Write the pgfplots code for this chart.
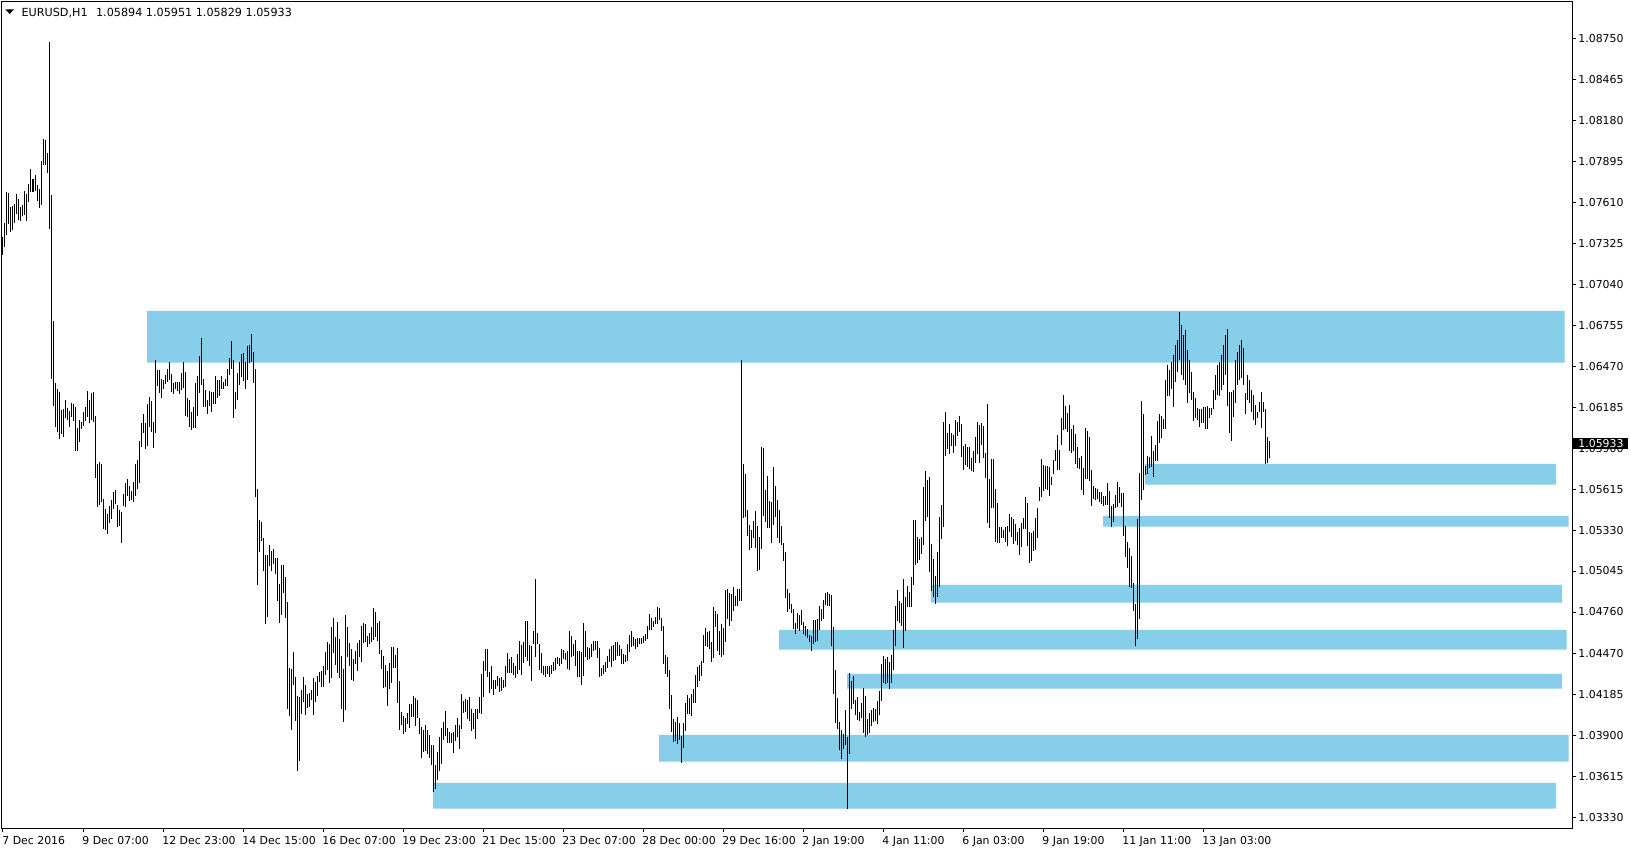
\documentclass[border=0pt]{standalone}
\usepackage{pgfplots}
\pgfplotsset{compat=1.18}
\usepackage{pgfplotstable}
\usepackage{fontspec}
\setmainfont{DejaVu Sans}
\definecolor{zone}{RGB}{135,206,235}
\newcommand{\tf}{\fontsize{5.45pt}{6.5pt}\selectfont}
\pgfplotstableread{
i hi lo
0 1.07371 1.07243
1 1.07468 1.07301
2 1.07681 1.07382
3 1.07677 1.07459
4 1.07579 1.07405
5 1.07586 1.07417
6 1.07600 1.07468
7 1.07667 1.07528
8 1.07633 1.07486
9 1.07579 1.07482
10 1.07591 1.07514
11 1.07688 1.07521
12 1.07665 1.07482
13 1.07739 1.07614
14 1.07841 1.07683
15 1.07774 1.07683
16 1.07799 1.07688
17 1.07730 1.07621
18 1.07704 1.07572
19 1.07897 1.07593
20 1.08052 1.07871
21 1.08043 1.07871
22 1.07952 1.07816
23 1.08724 1.07426
24 1.07663 1.06383
25 1.06786 1.06195
26 1.06355 1.06049
27 1.06311 1.06015
28 1.06293 1.05966
29 1.06168 1.06001
30 1.06174 1.05980
31 1.06237 1.06107
32 1.06181 1.06096
33 1.06158 1.06049
34 1.06216 1.06114
35 1.06209 1.06089
36 1.06186 1.05882
37 1.06042 1.05882
38 1.06096 1.05943
39 1.06084 1.06035
40 1.06154 1.06056
41 1.06186 1.06091
42 1.06300 1.06119
43 1.06237 1.06072
44 1.06286 1.06093
45 1.06293 1.06084
46 1.06124 1.05690
47 1.05790 1.05493
48 1.05804 1.05502
49 1.05790 1.05523
50 1.05549 1.05338
51 1.05477 1.05328
52 1.05442 1.05305
53 1.05500 1.05382
54 1.05539 1.05409
55 1.05597 1.05474
56 1.05607 1.05509
57 1.05505 1.05354
58 1.05470 1.05361
59 1.05458 1.05243
60 1.05583 1.05495
61 1.05658 1.05493
62 1.05685 1.05570
63 1.05634 1.05530
64 1.05602 1.05539
65 1.05664 1.05528
66 1.05790 1.05567
67 1.05818 1.05613
68 1.05950 1.05660
69 1.06072 1.05910
70 1.06137 1.06008
71 1.06072 1.05896
72 1.06207 1.05917
73 1.06253 1.06049
74 1.06228 1.06015
75 1.06079 1.05903
76 1.06513 1.06008
77 1.06443 1.06334
78 1.06443 1.06286
79 1.06381 1.06251
80 1.06374 1.06311
81 1.06409 1.06344
82 1.06450 1.06360
83 1.06499 1.06374
84 1.06416 1.06293
85 1.06355 1.06279
86 1.06360 1.06309
87 1.06360 1.06300
88 1.06360 1.06279
89 1.06422 1.06304
90 1.06499 1.06316
91 1.06429 1.06126
92 1.06249 1.06119
93 1.06235 1.06049
94 1.06151 1.06028
95 1.06186 1.06042
96 1.06353 1.06042
97 1.06402 1.06126
98 1.06541 1.06286
99 1.06666 1.06341
100 1.06381 1.06188
101 1.06304 1.06188
102 1.06235 1.06140
103 1.06297 1.06195
104 1.06290 1.06154
105 1.06290 1.06205
106 1.06402 1.06209
107 1.06374 1.06251
108 1.06374 1.06265
109 1.06402 1.06314
110 1.06362 1.06314
111 1.06381 1.06330
112 1.06450 1.06334
113 1.06527 1.06411
114 1.06645 1.06453
115 1.06513 1.06112
116 1.06290 1.06174
117 1.06425 1.06237
118 1.06499 1.06339
119 1.06555 1.06392
120 1.06562 1.06369
121 1.06499 1.06314
122 1.06610 1.06374
123 1.06617 1.06490
124 1.06694 1.06499
125 1.06569 1.06355
126 1.06450 1.05558
127 1.05616 1.04950
128 1.05400 1.05180
129 1.05386 1.05257
130 1.05275 1.05048
131 1.05157 1.04679
132 1.05157 1.04728
133 1.05226 1.05083
134 1.05185 1.05048
135 1.05199 1.05097
136 1.05136 1.05027
137 1.05136 1.04837
138 1.04955 1.04686
139 1.05087 1.04742
140 1.05087 1.04895
141 1.05004 1.04721
142 1.04830 1.04088
143 1.04371 1.04040
144 1.04364 1.03942
145 1.04482 1.04255
146 1.04308 1.04005
147 1.04176 1.03657
148 1.04169 1.03727
149 1.04218 1.04049
150 1.04308 1.04137
151 1.04253 1.04047
152 1.04190 1.04095
153 1.04197 1.04098
154 1.04218 1.04149
155 1.04302 1.04047
156 1.04274 1.04137
157 1.04315 1.04179
158 1.04343 1.04274
159 1.04350 1.04241
160 1.04385 1.04241
161 1.04482 1.04322
162 1.04552 1.04359
163 1.04538 1.04269
164 1.04656 1.04304
165 1.04719 1.04478
166 1.04587 1.04394
167 1.04691 1.04339
168 1.04573 1.04304
169 1.04454 1.04088
170 1.04364 1.03998
171 1.04740 1.04081
172 1.04656 1.04450
173 1.04545 1.04387
174 1.04503 1.04290
175 1.04434 1.04283
176 1.04489 1.04401
177 1.04545 1.04353
178 1.04566 1.04448
179 1.04663 1.04415
180 1.04684 1.04545
181 1.04677 1.04552
182 1.04594 1.04519
183 1.04614 1.04538
184 1.04656 1.04552
185 1.04788 1.04568
186 1.04760 1.04589
187 1.04684 1.04556
188 1.04698 1.04471
189 1.04496 1.04366
190 1.04454 1.04234
191 1.04392 1.04241
192 1.04350 1.04109
193 1.04406 1.04227
194 1.04517 1.04269
195 1.04517 1.04373
196 1.04461 1.04373
197 1.04510 1.04130
198 1.04281 1.03942
199 1.04065 1.03977
200 1.04037 1.03914
201 1.04023 1.03928
202 1.04058 1.03984
203 1.04121 1.03956
204 1.04121 1.04033
205 1.04176 1.04033
206 1.04162 1.03970
207 1.04149 1.04026
208 1.04023 1.03914
209 1.03961 1.03748
210 1.03940 1.03789
211 1.03975 1.03796
212 1.03940 1.03775
213 1.03905 1.03748
214 1.03836 1.03697
215 1.03836 1.03511
216 1.03699 1.03532
217 1.03789 1.03594
218 1.03894 1.03657
219 1.03956 1.03706
220 1.03998 1.03873
221 1.04072 1.03898
222 1.03956 1.03852
223 1.03928 1.03852
224 1.03921 1.03852
225 1.03928 1.03782
226 1.03975 1.03866
227 1.04023 1.03889
228 1.03977 1.03810
229 1.04190 1.03947
230 1.04144 1.04058
231 1.04156 1.04067
232 1.04151 1.04019
233 1.04172 1.04003
234 1.04086 1.03935
235 1.04058 1.03947
236 1.04086 1.03880
237 1.04086 1.04016
238 1.04172 1.04056
239 1.04332 1.04051
240 1.04422 1.04172
241 1.04506 1.04350
242 1.04506 1.04311
243 1.04343 1.04200
244 1.04385 1.04223
245 1.04290 1.04186
246 1.04290 1.04227
247 1.04318 1.04246
248 1.04304 1.04207
249 1.04311 1.04213
250 1.04290 1.04234
251 1.04385 1.04241
252 1.04475 1.04339
253 1.04434 1.04336
254 1.04450 1.04339
255 1.04406 1.04322
256 1.04385 1.04304
257 1.04468 1.04329
258 1.04561 1.04360
259 1.04533 1.04325
260 1.04552 1.04404
261 1.04700 1.04450
262 1.04700 1.04417
263 1.04531 1.04387
264 1.04526 1.04283
265 1.04631 1.04540
266 1.04990 1.04450
267 1.04617 1.04538
268 1.04538 1.04360
269 1.04473 1.04339
270 1.04387 1.04325
271 1.04387 1.04311
272 1.04387 1.04332
273 1.04387 1.04311
274 1.04394 1.04332
275 1.04413 1.04350
276 1.04441 1.04357
277 1.04448 1.04399
278 1.04441 1.04387
279 1.04503 1.04401
280 1.04496 1.04436
281 1.04475 1.04427
282 1.04492 1.04366
283 1.04631 1.04355
284 1.04594 1.04450
285 1.04540 1.04457
286 1.04566 1.04387
287 1.04492 1.04311
288 1.04492 1.04308
289 1.04480 1.04255
290 1.04684 1.04318
291 1.04628 1.04445
292 1.04515 1.04427
293 1.04508 1.04431
294 1.04538 1.04450
295 1.04559 1.04492
296 1.04561 1.04496
297 1.04559 1.04441
298 1.04508 1.04308
299 1.04373 1.04318
300 1.04392 1.04327
301 1.04413 1.04343
302 1.04452 1.04371
303 1.04503 1.04411
304 1.04524 1.04380
305 1.04531 1.04420
306 1.04554 1.04424
307 1.04552 1.04452
308 1.04531 1.04454
309 1.04503 1.04397
310 1.04471 1.04401
311 1.04462 1.04411
312 1.04540 1.04417
313 1.04601 1.04482
314 1.04628 1.04515
315 1.04584 1.04524
316 1.04573 1.04501
317 1.04582 1.04519
318 1.04580 1.04538
319 1.04580 1.04538
320 1.04594 1.04547
321 1.04610 1.04561
322 1.04666 1.04575
323 1.04747 1.04635
324 1.04721 1.04635
325 1.04700 1.04659
326 1.04728 1.04679
327 1.04795 1.04679
328 1.04788 1.04705
329 1.04721 1.04631
330 1.04663 1.04401
331 1.04461 1.04332
332 1.04448 1.04311
333 1.04357 1.04088
334 1.04183 1.03928
335 1.04019 1.03859
336 1.03998 1.03866
337 1.04033 1.03845
338 1.03991 1.03873
339 1.03901 1.03713
340 1.03991 1.03817
341 1.04130 1.03935
342 1.04186 1.04054
343 1.04165 1.04054
344 1.04193 1.04040
345 1.04227 1.04130
346 1.04322 1.04130
347 1.04380 1.04241
348 1.04394 1.04283
349 1.04422 1.04318
350 1.04603 1.04408
351 1.04652 1.04526
352 1.04619 1.04519
353 1.04628 1.04506
354 1.04552 1.04415
355 1.04795 1.04443
356 1.04770 1.04658
357 1.04747 1.04492
358 1.04628 1.04464
359 1.04677 1.04445
360 1.04652 1.04464
361 1.04913 1.04554
362 1.04923 1.04714
363 1.04890 1.04665
364 1.04886 1.04700
365 1.04934 1.04770
366 1.04872 1.04805
367 1.04923 1.04805
368 1.04923 1.04839
369 1.06513 1.04839
370 1.05790 1.05416
371 1.05720 1.05423
372 1.05470 1.05291
373 1.05365 1.05194
374 1.05331 1.05208
375 1.05393 1.05277
376 1.05463 1.05208
377 1.05359 1.05048
378 1.05282 1.05055
379 1.05908 1.05201
380 1.05901 1.05430
381 1.05609 1.05389
382 1.05706 1.05347
383 1.05532 1.05347
384 1.05525 1.05243
385 1.05769 1.05368
386 1.05637 1.05423
387 1.05539 1.05277
388 1.05470 1.05243
389 1.05359 1.05229
390 1.05243 1.05117
391 1.05180 1.04860
392 1.04923 1.04763
393 1.04895 1.04784
394 1.04816 1.04753
395 1.04781 1.04642
396 1.04684 1.04607
397 1.04753 1.04642
398 1.04740 1.04631
399 1.04774 1.04670
400 1.04691 1.04607
401 1.04663 1.04594
402 1.04642 1.04580
403 1.04600 1.04552
404 1.04594 1.04492
405 1.04705 1.04540
406 1.04705 1.04552
407 1.04712 1.04559
408 1.04804 1.04635
409 1.04781 1.04698
410 1.04844 1.04714
411 1.04893 1.04809
412 1.04900 1.04802
413 1.04888 1.04802
414 1.04879 1.04526
415 1.04654 1.04190
416 1.04357 1.03991
417 1.04165 1.03949
418 1.03996 1.03803
419 1.03942 1.03741
420 1.03912 1.03810
421 1.04079 1.03838
422 1.03891 1.03393
423 1.04336 1.03775
424 1.04283 1.04088
425 1.04315 1.04123
426 1.04149 1.04047
427 1.04169 1.04012
428 1.04065 1.04002
429 1.04128 1.04026
430 1.04232 1.03917
431 1.04176 1.03894
432 1.04019 1.03907
433 1.04058 1.03921
434 1.04081 1.03970
435 1.04093 1.03998
436 1.04086 1.04002
437 1.04144 1.03984
438 1.04213 1.04047
439 1.04399 1.04144
440 1.04454 1.04269
441 1.04436 1.04262
442 1.04448 1.04269
443 1.04413 1.04227
444 1.04461 1.04269
445 1.04638 1.04359
446 1.04804 1.04526
447 1.04913 1.04700
448 1.04837 1.04686
449 1.04823 1.04665
450 1.04990 1.04512
451 1.04867 1.04631
452 1.04941 1.04798
453 1.04900 1.04798
454 1.05004 1.04798
455 1.05400 1.04948
456 1.05400 1.05090
457 1.05282 1.05104
458 1.05270 1.05124
459 1.05282 1.05164
460 1.05632 1.05226
461 1.05741 1.05396
462 1.05678 1.05421
463 1.05702 1.05041
464 1.05233 1.04909
465 1.05129 1.04867
466 1.05011 1.04818
467 1.05178 1.04867
468 1.05421 1.04932
469 1.05504 1.05270
470 1.06082 1.05354
471 1.06151 1.05848
472 1.06008 1.05896
473 1.06068 1.05862
474 1.06005 1.05917
475 1.05991 1.05869
476 1.06096 1.05917
477 1.06082 1.05984
478 1.06123 1.06015
479 1.06068 1.05841
480 1.05915 1.05750
481 1.05929 1.05785
482 1.05908 1.05771
483 1.05908 1.05757
484 1.05831 1.05743
485 1.05880 1.05736
486 1.05977 1.05799
487 1.06082 1.05862
488 1.06061 1.05799
489 1.06075 1.05924
490 1.06054 1.05831
491 1.05866 1.05695
492 1.06207 1.05382
493 1.05685 1.05347
494 1.05824 1.05486
495 1.05824 1.05486
496 1.05616 1.05245
497 1.05519 1.05243
498 1.05354 1.05243
499 1.05352 1.05275
500 1.05331 1.05275
501 1.05352 1.05250
502 1.05359 1.05217
503 1.05442 1.05319
504 1.05423 1.05284
505 1.05407 1.05233
506 1.05372 1.05257
507 1.05317 1.05229
508 1.05345 1.05159
509 1.05379 1.05215
510 1.05414 1.05340
511 1.05560 1.05340
512 1.05519 1.05222
513 1.05317 1.05104
514 1.05312 1.05117
515 1.05326 1.05187
516 1.05414 1.05194
517 1.05484 1.05277
518 1.05630 1.05535
519 1.05824 1.05563
520 1.05783 1.05604
521 1.05776 1.05616
522 1.05776 1.05609
523 1.05769 1.05570
524 1.05700 1.05640
525 1.05818 1.05720
526 1.05887 1.05813
527 1.05991 1.05748
528 1.05887 1.05748
529 1.06110 1.05922
530 1.06270 1.06026
531 1.06193 1.06035
532 1.06144 1.06012
533 1.06200 1.05880
534 1.06033 1.05869
535 1.06061 1.05880
536 1.05998 1.05792
537 1.05908 1.05762
538 1.05831 1.05757
539 1.05845 1.05609
540 1.05762 1.05574
541 1.06040 1.05688
542 1.06019 1.05688
543 1.05977 1.05674
544 1.05748 1.05498
545 1.05639 1.05546
546 1.05623 1.05539
547 1.05616 1.05546
548 1.05595 1.05525
549 1.05595 1.05512
550 1.05567 1.05500
551 1.05565 1.05505
552 1.05658 1.05507
553 1.05602 1.05417
554 1.05500 1.05354
555 1.05514 1.05389
556 1.05576 1.05486
557 1.05665 1.05493
558 1.05630 1.05521
559 1.05588 1.05488
560 1.05588 1.05291
561 1.05359 1.05143
562 1.05250 1.05066
563 1.05206 1.04932
564 1.05152 1.04930
565 1.04960 1.04770
566 1.04816 1.04526
567 1.05410 1.04575
568 1.05727 1.04714
569 1.06228 1.05541
570 1.06140 1.05609
571 1.05776 1.05711
572 1.05845 1.05718
573 1.05838 1.05762
574 1.05984 1.05771
575 1.05880 1.05699
576 1.05922 1.05811
577 1.06089 1.05811
578 1.06137 1.05934
579 1.06123 1.05968
580 1.06103 1.06035
581 1.06374 1.06035
582 1.06478 1.06265
583 1.06443 1.06265
584 1.06499 1.06313
585 1.06548 1.06188
586 1.06617 1.06362
587 1.06652 1.06429
588 1.06847 1.06513
589 1.06756 1.06409
590 1.06687 1.06374
591 1.06721 1.06339
592 1.06582 1.06214
593 1.06513 1.06283
594 1.06429 1.06235
595 1.06290 1.06091
596 1.06249 1.06110
597 1.06181 1.06096
598 1.06172 1.06049
599 1.06172 1.06073
600 1.06188 1.06073
601 1.06188 1.06031
602 1.06193 1.06031
603 1.06177 1.06107
604 1.06177 1.06130
605 1.06304 1.06174
606 1.06409 1.06235
607 1.06478 1.06270
608 1.06499 1.06263
609 1.06548 1.06304
610 1.06617 1.06339
611 1.06687 1.06409
612 1.06728 1.06193
613 1.06292 1.06003
614 1.06290 1.05952
615 1.06304 1.06117
616 1.06513 1.06214
617 1.06569 1.06339
618 1.06617 1.06374
619 1.06652 1.06388
620 1.06596 1.06339
621 1.06286 1.06135
622 1.06409 1.06235
623 1.06374 1.06212
624 1.06304 1.06153
625 1.06270 1.06096
626 1.06200 1.06059
627 1.06153 1.06107
628 1.06223 1.06153
629 1.06292 1.06038
630 1.06223 1.06153
631 1.06172 1.05788
632 1.05980 1.05795
633 1.05951 1.05829
}\bars
\begin{document}
\begin{tikzpicture}
\useasboundingbox (0pt,0pt) rectangle (815.5pt,426pt);
\fill[white] (0pt,0pt) rectangle (815.5pt,426pt);
\begin{axis}[
  at={(1pt,12pt)}, anchor=south west,
  scale only axis, width=785pt, height=413pt,
  xmin=-0.5, xmax=784.5, ymin=1.03258, ymax=1.09002,
  axis line style={black, line width=0.5pt},
  clip mode=individual,
  xtick={0,40,...,600},
  xticklabels={7 Dec 2016,9 Dec 07:00,12 Dec 23:00,14 Dec 15:00,16 Dec 07:00,19 Dec 23:00,21 Dec 15:00,23 Dec 07:00,28 Dec 00:00,29 Dec 16:00,2 Jan 19:00,4 Jan 11:00,6 Jan 03:00,9 Jan 19:00,11 Jan 11:00,13 Jan 03:00},
  ytick={1.03330,1.03615,1.03900,1.04185,1.04470,1.04760,1.05045,1.05330,1.05615,1.05900,1.06185,1.06470,1.06755,1.07040,1.07325,1.07610,1.07895,1.08180,1.08465,1.08750},
  yticklabels={1.03330,1.03615,1.03900,1.04185,1.04470,1.04760,1.05045,1.05330,1.05615,1.05900,1.06185,1.06470,1.06755,1.07040,1.07325,1.07610,1.07895,1.08180,1.08465,1.08750},
  xtick pos=left, ytick pos=right, yticklabel pos=right,
  tick align=outside, major tick length=2pt,
  tick style={black, line width=0.5pt},
  xticklabel style={anchor=north west, inner sep=0pt, font=\tf, xshift=-0.5pt, yshift=-1.8pt},
  yticklabel style={anchor=west, inner sep=0pt, font=\tf, xshift=1pt},
  minor tick num=0,
]
\addplot[fill=zone, draw=none] coordinates {(72,1.06494) (780.75,1.06494) (780.75,1.06854) (72,1.06854) (72,1.06494)};
\addplot[fill=zone, draw=none] coordinates {(571,1.05646) (776.5,1.05646) (776.5,1.05790) (571,1.05790) (571,1.05646)};
\addplot[fill=zone, draw=none] coordinates {(550,1.05354) (782.8,1.05354) (782.8,1.05428) (550,1.05428) (550,1.05354)};
\addplot[fill=zone, draw=none] coordinates {(464,1.04825) (779.5,1.04825) (779.5,1.04948) (464,1.04948) (464,1.04825)};
\addplot[fill=zone, draw=none] coordinates {(388,1.04498) (781.75,1.04498) (781.75,1.04635) (388,1.04635) (388,1.04498)};
\addplot[fill=zone, draw=none] coordinates {(422,1.04227) (779.5,1.04227) (779.5,1.04329) (422,1.04329) (422,1.04227)};
\addplot[fill=zone, draw=none] coordinates {(328,1.03720) (782.8,1.03720) (782.8,1.03905) (328,1.03905) (328,1.03720)};
\addplot[fill=zone, draw=none] coordinates {(215,1.03393) (776.5,1.03393) (776.5,1.03571) (215,1.03571) (215,1.03393)};
\addplot[draw=none, mark=none,
  error bars/.cd, y dir=plus, y explicit, error mark=none,
  error bar style={draw=black, line width=0.5pt}]
  table[x=i, y=lo, y error expr=\thisrow{hi}-\thisrow{lo}] {\bars};
\coordinate (pl) at (axis cs:784.5,1.05933);
\end{axis}
\node[fill=black, text=white, anchor=west, inner xsep=0pt, inner ysep=0pt,
  minimum height=5.8pt, text width=28pt, align=left, font=\tf] at (pl) {\hspace*{3pt}1.05933};
\fill[black] (2.65pt,421.35pt) -- (7pt,421.35pt) -- (4.83pt,419pt) -- cycle;
\node[anchor=base west, inner sep=0pt, font=\fontsize{5.6pt}{6.6pt}\selectfont] at (10.6pt,417.85pt) {EURUSD,H1\hspace{4.2pt}1.05894 1.05951 1.05829 1.05933};
\end{tikzpicture}
\end{document}
